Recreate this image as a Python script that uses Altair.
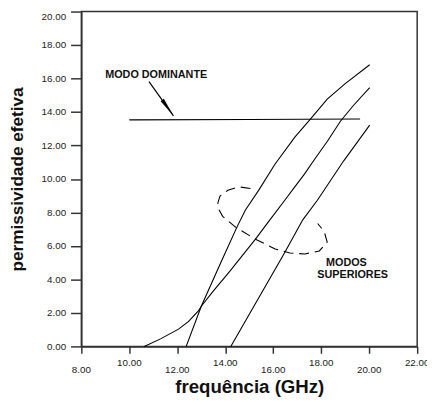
import altair as alt
import pandas as pd

# ---- data ----
# upper mode 1 (starts near 10.6 GHz)
freq_a = [10.62, 11.30, 12.05, 12.46, 12.87, 13.00, 13.48, 14.16, 15.25, 15.86, 16.48, 16.89, 17.30, 17.71, 18.25, 18.80, 19.34, 20.02]
eps_a = [0.00, 0.45, 1.03, 1.48, 2.10, 2.40, 3.27, 4.44, 6.39, 7.56, 8.73, 9.51, 10.29, 11.15, 12.24, 13.45, 14.39, 15.46]
# upper mode 2 (starts near 12.4 GHz)
freq_b = [12.37, 13.00, 13.82, 14.50, 14.84, 15.39, 16.07, 16.90, 17.53, 18.25, 19.00, 20.02]
eps_b = [0.00, 2.40, 5.03, 7.17, 8.15, 9.32, 10.88, 12.50, 13.55, 14.77, 15.70, 16.82]
# upper mode 3 (starts near 14.2 GHz)
freq_c = [14.23, 16.48, 17.23, 17.84, 18.93, 20.02]
eps_c = [0.00, 5.61, 7.56, 8.73, 11.07, 13.22]
# dominant mode
freq_dom = [10.00, 15.00, 19.62]
eps_dom = [13.53, 13.55, 13.58]

# dashed ellipse marking the higher modes
ell_x = [15.05, 14.56, 14.11, 13.78, 13.69, 13.74, 13.89, 14.44, 15.26, 16.08, 16.69, 17.31, 17.92, 18.25, 18.12, 17.85]
ell_y = [9.43, 9.53, 9.33, 8.98, 8.57, 8.16, 7.77, 7.11, 6.40, 5.82, 5.58, 5.52, 5.70, 6.23, 6.87, 7.34]

# annotations
label_text = ["MODO DOMINANTE", "MODOS", "SUPERIORES"]
label_x = [11.12, 19.05, 19.31]
label_y = [16.20, 5.00, 4.24]
arrow_x = [10.82, 11.84]
arrow_y = [15.82, 13.77]
head_x = [11.61]
head_y = [14.24]

# axis ticks (x labels are staggered in two rows)
x_ticks = [8, 10, 12, 14, 16, 18, 20, 22]
x_labels_low = [8, 12, 16, 20]
x_labels_high = [10, 14, 18, 22]
y_ticks = [0, 2, 4, 6, 8, 10, 12, 14, 16, 18, 20]

FONT = "Liberation Sans"

rows = []
for name, xs, ys in [("a", freq_a, eps_a), ("b", freq_b, eps_b), ("c", freq_c, eps_c), ("dom", freq_dom, eps_dom)]:
    for i, (xv, yv) in enumerate(zip(xs, ys)):
        rows.append({"x": xv, "y": yv, "s": name, "o": i})
curves = pd.DataFrame(rows)
ellipse = pd.DataFrame({"x": ell_x, "y": ell_y, "o": list(range(len(ell_x)))})
labels = pd.DataFrame({"x": label_x, "y": label_y, "t": label_text})
arrow = pd.DataFrame({"x": arrow_x, "y": arrow_y, "o": [0, 1]})
head = pd.DataFrame({"x": head_x, "y": head_y})
low_df = pd.DataFrame({"x": x_labels_low, "y": [0] * len(x_labels_low)})
high_df = pd.DataFrame({"x": x_labels_high, "y": [0] * len(x_labels_high)})

xscale = alt.Scale(domain=[8, 22], nice=False, zero=False)
yscale = alt.Scale(domain=[0, 20], nice=False, zero=False)

xaxis = alt.Axis(
    values=x_ticks, tickCount=20, grid=False, tickSize=7, labels=False,
    title="frequência (GHz)", titleFont=FONT, titleFontSize=19, titleFontWeight="bold",
    titleColor="#111", titleX=171, titleY=46.5, titleBaseline="alphabetic",
    domainColor="#333", domainWidth=1.5, tickColor="#333", tickWidth=1.5,
)
yaxis = alt.Axis(
    values=y_ticks, tickCount=20, format=".2f", grid=False, tickSize=11, labelPadding=5,
    labelBaseline={"condition": {"test": "datum.value == 20", "value": "top"}, "value": "middle"},
    labelFlush=False, labelOverlap=False,
    labelFontSize=10, labelFont=FONT, labelColor="#222",
    title="permissividade efetiva", titleFont=FONT, titleFontSize=17.5, titleFontWeight="bold",
    titleColor="#111", titleX=-60.3, titleY=170.5, titleBaseline="alphabetic",
    domainColor="#333", domainWidth=1.5, tickColor="#333", tickWidth=1.5,
)

lines = alt.Chart(curves).mark_line(color="black", strokeWidth=1.1).encode(
    x=alt.X("x:Q", scale=xscale, axis=xaxis),
    y=alt.Y("y:Q", scale=yscale, axis=yaxis),
    detail="s:N",
    order="o:Q",
)

ell = alt.Chart(ellipse).mark_line(color="black", strokeWidth=1.1, strokeDash=[10, 6]).encode(
    x=alt.X("x:Q", scale=xscale), y=alt.Y("y:Q", scale=yscale), order="o:Q"
)

shaft = alt.Chart(arrow).mark_line(color="black", strokeWidth=1.2).encode(
    x=alt.X("x:Q", scale=xscale), y=alt.Y("y:Q", scale=yscale), order="o:Q"
)

arrow_head = alt.Chart(head).mark_point(
    shape="M0,-1L0.2,1L-0.2,1Z", filled=True, color="black", opacity=1, size=400, angle=144.5
).encode(x=alt.X("x:Q", scale=xscale), y=alt.Y("y:Q", scale=yscale))

texts = alt.Chart(labels).mark_text(
    font=FONT, fontSize=11, fontWeight="bold", color="#111", baseline="middle", align="center"
).encode(x=alt.X("x:Q", scale=xscale), y=alt.Y("y:Q", scale=yscale), text="t:N")

tick_low = alt.Chart(low_df).mark_text(
    font=FONT, fontSize=10, color="#222", baseline="alphabetic", align="center", dy=27
).encode(x=alt.X("x:Q", scale=xscale), y=alt.Y("y:Q", scale=yscale), text=alt.Text("x:Q", format=".2f"))

tick_high = alt.Chart(high_df).mark_text(
    font=FONT, fontSize=10, color="#222", baseline="alphabetic", align="center", dy=19.5
).encode(x=alt.X("x:Q", scale=xscale), y=alt.Y("y:Q", scale=yscale), text=alt.Text("x:Q", format=".2f"))

chart = alt.layer(lines, ell, shaft, arrow_head, texts, tick_low, tick_high).properties(
    width=342, height=341,
    autosize=alt.AutoSizeParams(type="none"),
    padding={"left": 74.7, "top": 0, "right": 10, "bottom": 53},
    background="white",
).configure_view(stroke="#333", strokeWidth=1.5)

chart.save("out.html", embed_options={"renderer": "svg", "actions": False})
